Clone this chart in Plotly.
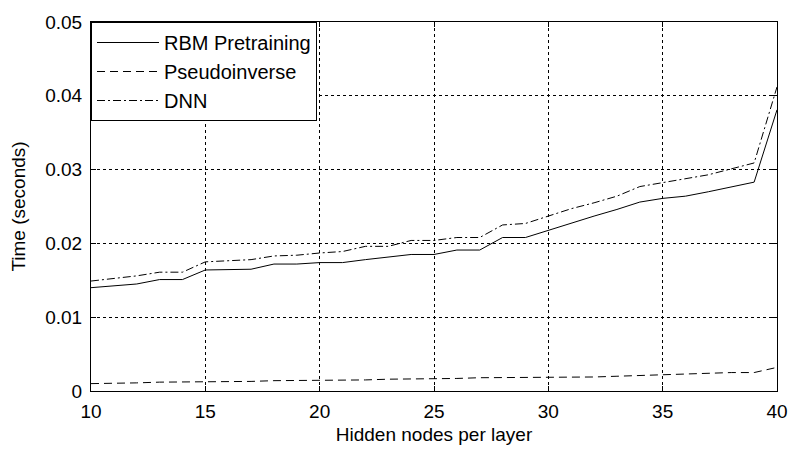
import plotly.graph_objects as go

# Hidden nodes per layer
hidden_nodes = list(range(10, 41))

# Training time (seconds)
rbm_pretraining = [
    0.0140, 0.0142, 0.0145, 0.0151, 0.0151, 0.0164, 0.0165, 0.0165, 0.0172, 0.0172,
    0.0174, 0.0174, 0.0178, 0.0181, 0.0185, 0.0185, 0.0191, 0.0191, 0.0208, 0.0208,
    0.0218, 0.0228, 0.0237, 0.0246, 0.0256, 0.0261, 0.0264, 0.0270, 0.0276, 0.0283,
    0.0381,
]
pseudoinverse = [
    0.0010, 0.0010, 0.0011, 0.0012, 0.0012, 0.0012, 0.0012, 0.0013, 0.0014, 0.0014,
    0.0014, 0.0014, 0.0015, 0.0016, 0.0016, 0.0016, 0.0017, 0.0018, 0.0018, 0.0018,
    0.0019, 0.0019, 0.0019, 0.0020, 0.0021, 0.0023, 0.0023, 0.0025, 0.0025, 0.0025,
    0.0032,
]
dnn = [
    0.0149, 0.0152, 0.0156, 0.0161, 0.0161, 0.0175, 0.0177, 0.0178, 0.0183, 0.0184,
    0.0187, 0.0189, 0.0196, 0.0196, 0.0204, 0.0204, 0.0208, 0.0208, 0.0225, 0.0227,
    0.0237, 0.0247, 0.0255, 0.0264, 0.0277, 0.0282, 0.0287, 0.0293, 0.0301, 0.0309,
    0.0412,
]

x_ticks = [10, 15, 20, 25, 30, 35, 40]
y_ticks = [0, 0.01, 0.02, 0.03, 0.04, 0.05]
y_tick_labels = ["0", "0.01", "0.02", "0.03", "0.04", "0.05"]

FONT = "Liberation Sans, Arial, sans-serif"
FS = 19

fig = go.Figure()
fig.add_trace(go.Scatter(
    x=hidden_nodes, y=rbm_pretraining, mode="lines", name="RBM Pretraining",
    line=dict(color="black", width=1, dash="solid"), legendgroup="a",
))
fig.add_trace(go.Scatter(
    x=hidden_nodes, y=pseudoinverse, mode="lines", name="Pseudoinverse",
    line=dict(color="black", width=1, dash="8px,5px"), legendgroup="b",
))
fig.add_trace(go.Scatter(
    x=hidden_nodes, y=dnn, mode="lines", name="DNN",
    line=dict(color="black", width=1, dash="8px,3px,2px,3px"), legendgroup="c",
))

axis_common = dict(
    showline=True, linecolor="black", linewidth=1, mirror="ticks",
    ticks="inside", ticklen=5, tickcolor="black", tickwidth=1,
    showgrid=True, gridcolor="black", gridwidth=1, griddash="3px,3px",
    zeroline=False,
    tickfont=dict(family=FONT, size=FS, color="black"),
)

fig.update_xaxes(
    range=[10, 40], tickvals=x_ticks, ticklabelstandoff=3,
    title=dict(text="Hidden nodes per layer", font=dict(family=FONT, size=FS, color="black"), standoff=6),
    **axis_common,
)
fig.update_yaxes(
    range=[0, 0.05], tickvals=y_ticks, ticktext=y_tick_labels, ticklabelstandoff=4,
    title=dict(text="Time (seconds)", font=dict(family=FONT, size=FS, color="black"), standoff=14),
    **axis_common,
)

fig.update_layout(
    width=800, height=453,
    margin=dict(l=91, r=14, t=16, b=62),
    paper_bgcolor="white", plot_bgcolor="white",
    font=dict(family=FONT, size=FS, color="black"),
    showlegend=True,
    legend=dict(
        x=0, y=1, xanchor="left", yanchor="top",
        bgcolor="white", bordercolor="black", borderwidth=1,
        font=dict(family=FONT, size=20, color="black"),
        traceorder="grouped", tracegroupgap=0,
        itemwidth=62,
    ),
)

fig.write_html("out.html")
